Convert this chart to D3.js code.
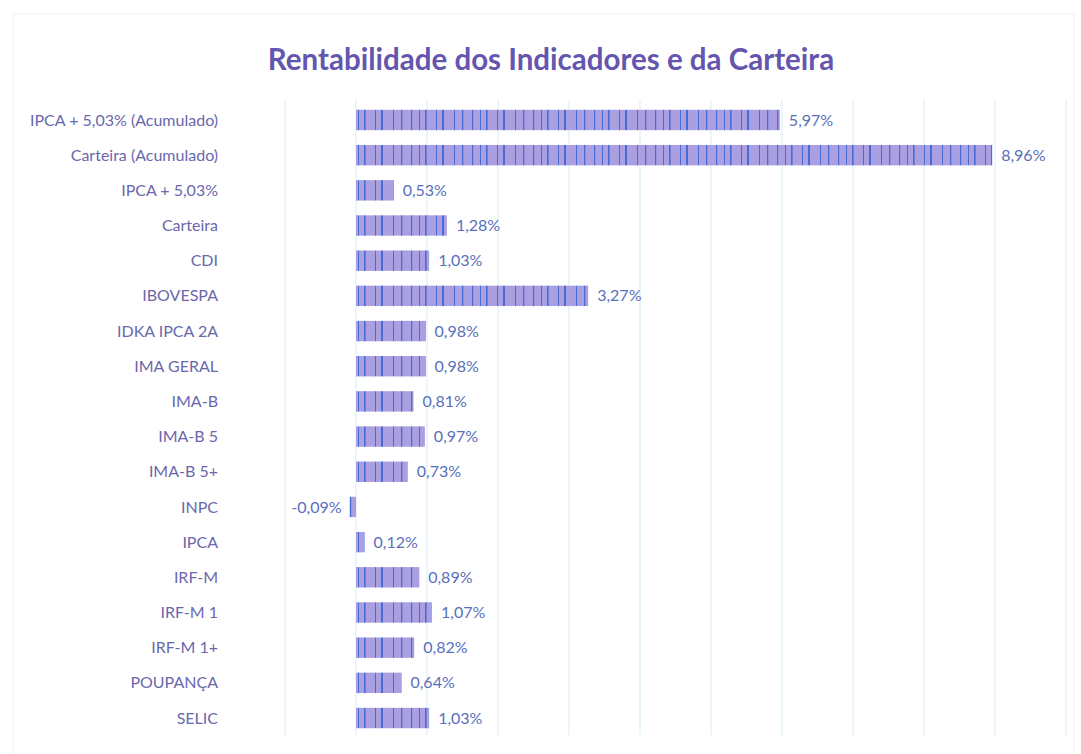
<!DOCTYPE html>
<html>
<head>
    <meta charset="utf-8">
    <script src="https://d3js.org/d3.v7.min.js"></script>
    <style>
        body { margin: 0; background: #fff; }
    </style>
</head>
<body>
    <div id="my_dataviz"></div>
    <script>
        // data
        const categories = ["IPCA + 5,03% (Acumulado)", "Carteira (Acumulado)", "IPCA + 5,03%", "Carteira", "CDI",
            "IBOVESPA", "IDKA IPCA 2A", "IMA GERAL", "IMA-B", "IMA-B 5", "IMA-B 5+", "INPC", "IPCA",
            "IRF-M", "IRF-M 1", "IRF-M 1+", "POUPANÇA", "SELIC"];
        const values = [5.97, 8.96, 0.53, 1.28, 1.03, 3.27, 0.98, 0.98, 0.81, 0.97, 0.73, -0.09, 0.12,
            0.89, 1.07, 0.82, 0.64, 1.03];
        const gridTicks = [-1, 0, 1, 2, 3, 4, 5, 6, 7, 8, 9, 10];

        const W = 1081, H = 754;
        const margin = { top: 95, left: 285 };

        const svg = d3.select("#my_dataviz")
            .append("svg")
            .attr("width", W)
            .attr("height", H);

        // stripy fill, the scan shows blue streaks over the lavender bars
        const defs = svg.append("defs");
        const pat = defs.append("pattern")
            .attr("id", "stripes")
            .attr("patternUnits", "userSpaceOnUse")
            .attr("width", 61).attr("height", 40);
        pat.append("rect").attr("width", 61).attr("height", 40).attr("fill", "#aa9fe0");
        [[4, 1.2], [12, 1], [18, 1.6], [29, 1], [35, 2], [47, 1], [55, 1.3]].forEach(function (s) {
            pat.append("rect").attr("x", s[0]).attr("width", s[1]).attr("height", 40)
                .attr("fill", "#2f5fd0").attr("opacity", 0.8);
        });

        // faint outer border from the scan
        svg.append("rect")
            .attr("x", 13).attr("y", 14).attr("width", W - 20).attr("height", H - 10)
            .attr("fill", "none").attr("stroke", "#eceff2").attr("stroke-width", 1);

        svg.append("text")
            .attr("x", 551).attr("y", 70)
            .attr("text-anchor", "middle")
            .attr("font-family", "Lato, 'Open Sans', sans-serif")
            .attr("font-weight", "bold")
            .attr("font-size", 29.5)
            .attr("fill", "#6456ae")
            .text("Rentabilidade dos Indicadores e da Carteira");

        const g = svg.append("g")
            .attr("transform", `translate(${margin.left},${margin.top})`);

        const x = d3.scaleLinear()
            .domain([-1, 10])
            .range([0, 781]);

        const y = d3.scaleBand()
            .domain(categories)
            .range([0, 648])
            .padding(0.42);

        // vertical gridlines
        g.append("g")
            .selectAll("line")
            .data(gridTicks)
            .join("line")
            .attr("x1", d => x(d)).attr("x2", d => x(d))
            .attr("y1", 5).attr("y2", 640)
            .attr("stroke", "#d3edf6")
            .attr("stroke-width", 1);

        // category labels
        g.append("g")
            .selectAll("text")
            .data(categories)
            .join("text")
            .attr("x", -67)
            .attr("y", d => y(d) + y.bandwidth() / 2)
            .attr("dy", "0.35em")
            .attr("text-anchor", "end")
            .attr("font-family", "Lato, 'Open Sans', sans-serif")
            .attr("font-size", 16)
            .attr("fill", "#6a68ac")
            .text(d => d);

        const data = categories.map((c, i) => ({ cat: c, val: values[i] }));

        g.append("g")
            .selectAll("rect")
            .data(data)
            .join("rect")
            .attr("x", d => x(Math.min(0, d.val)))
            .attr("y", d => y(d.cat))
            .attr("width", d => Math.abs(x(d.val) - x(0)))
            .attr("height", y.bandwidth())
            .attr("fill", "url(#stripes)");

        // value labels
        g.append("g")
            .selectAll("text")
            .data(data)
            .join("text")
            .attr("x", d => d.val < 0 ? x(d.val) - 8 : x(d.val) + 9)
            .attr("y", d => y(d.cat) + y.bandwidth() / 2)
            .attr("dy", "0.35em")
            .attr("text-anchor", d => d.val < 0 ? "end" : "start")
            .attr("font-family", "Lato, 'Open Sans', sans-serif")
            .attr("font-size", 16)
            .attr("fill", "#5870bc")
            .text(d => d.val.toFixed(2).replace(".", ",") + "%");
    </script>
</body>
</html>
